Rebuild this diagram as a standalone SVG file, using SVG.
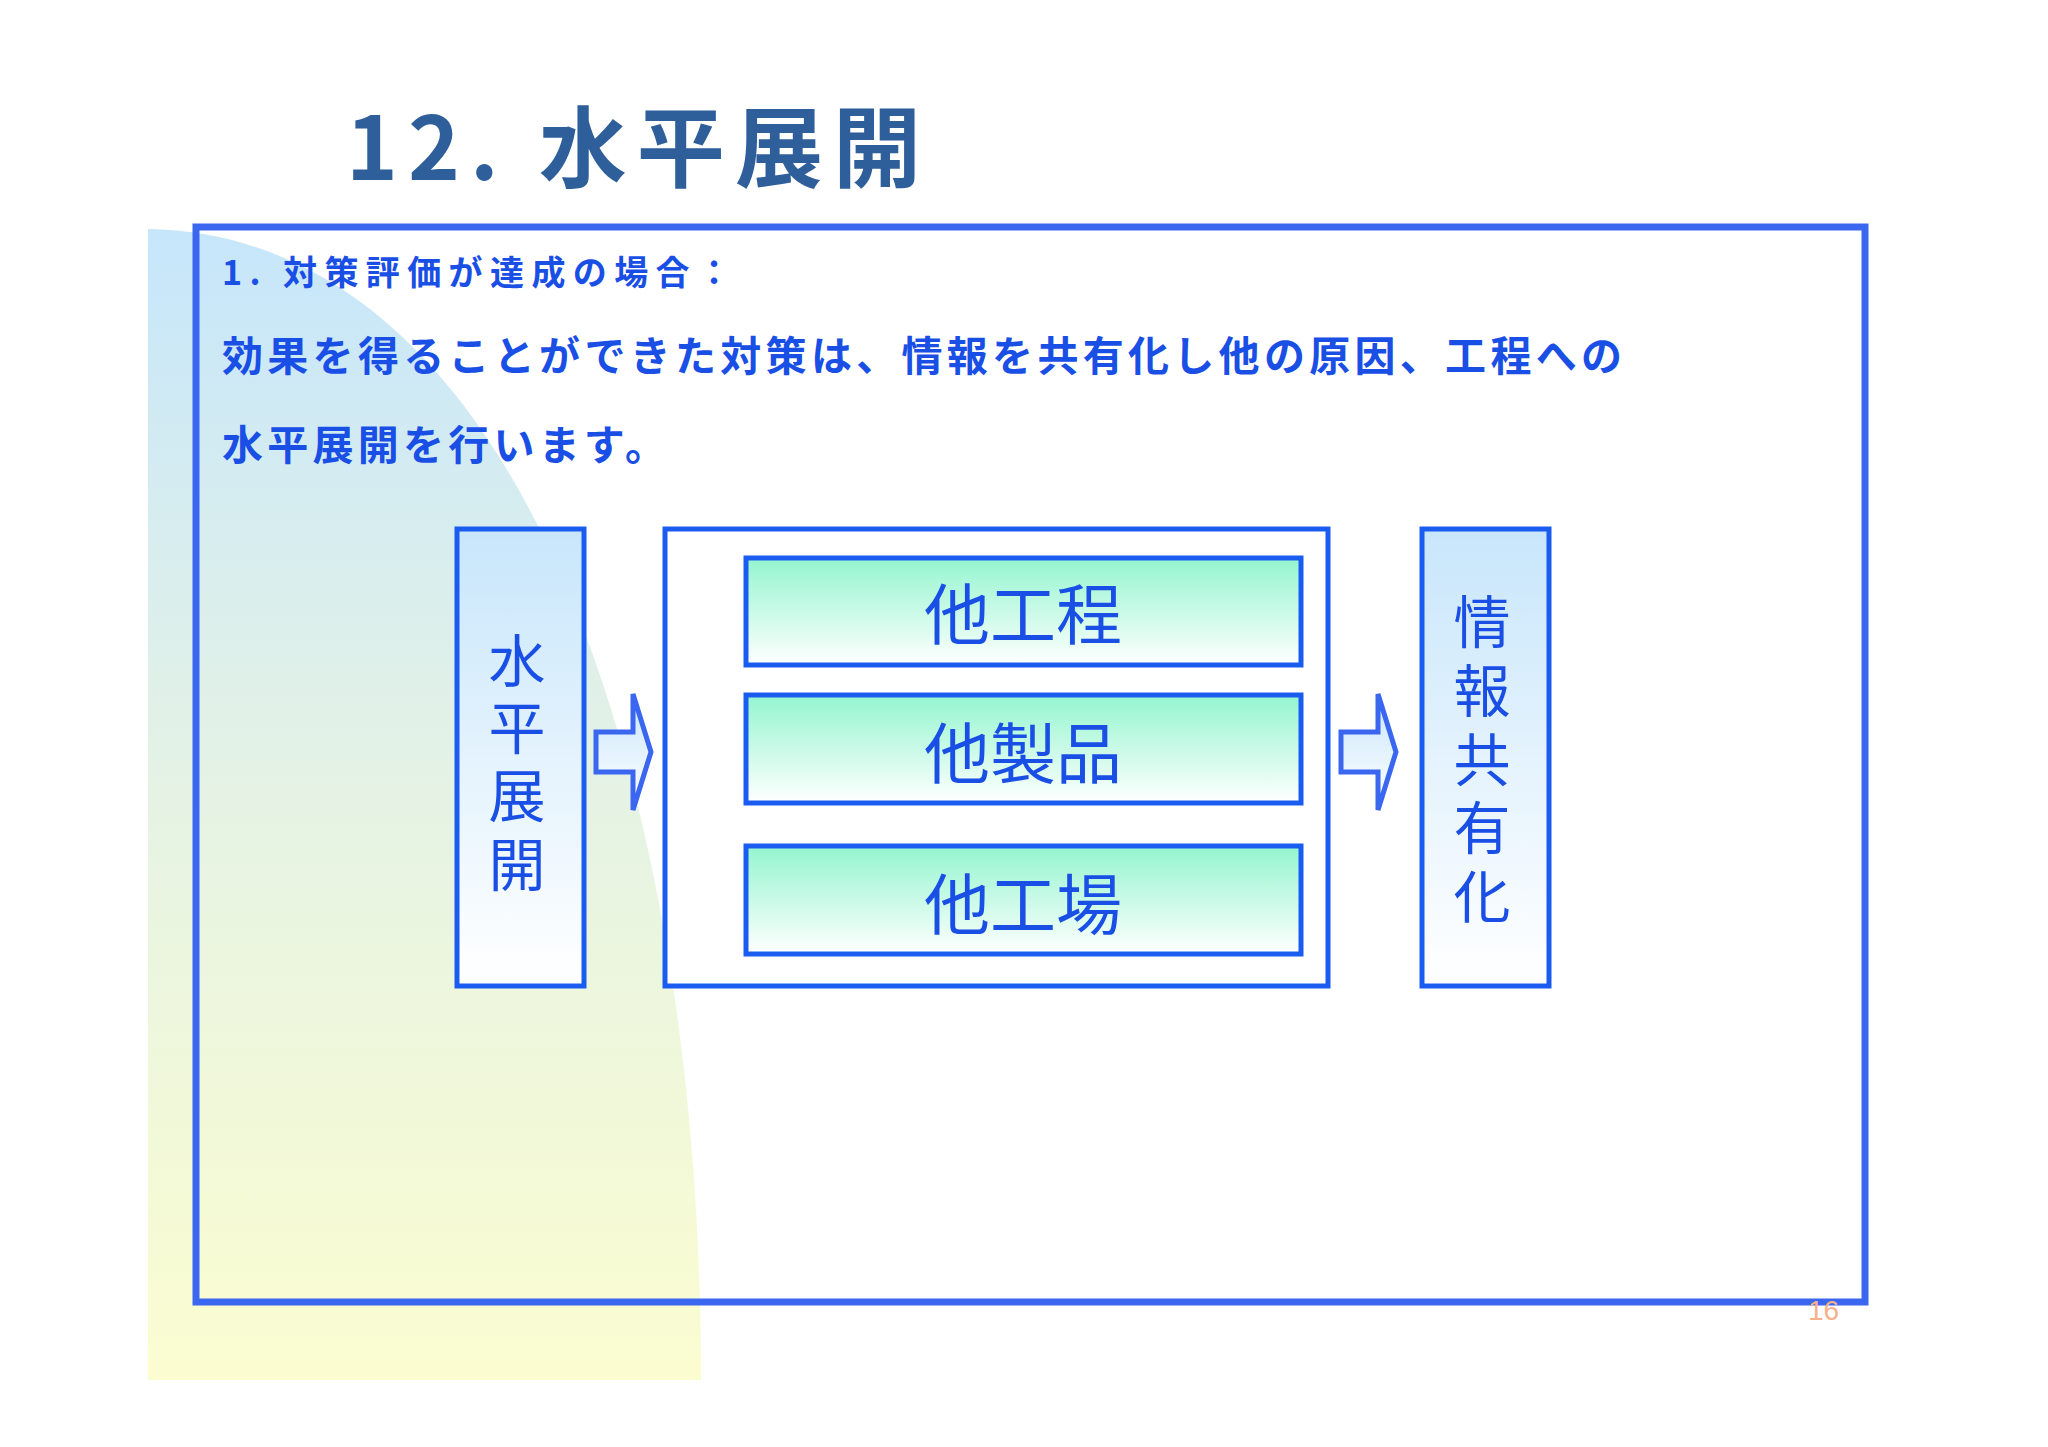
<svg xmlns="http://www.w3.org/2000/svg" width="2048" height="1447" viewBox="0 0 2048 1447">
<defs>
<linearGradient id="bg" x1="0" y1="0" x2="0" y2="1"><stop offset="0" stop-color="#c6e6fb"/><stop offset="0.5" stop-color="#e6f3e4"/><stop offset="1" stop-color="#fbfdd0"/></linearGradient>
<linearGradient id="blu" x1="0" y1="0" x2="0" y2="1"><stop offset="0" stop-color="#c8e6fb"/><stop offset="1" stop-color="#ffffff"/></linearGradient>
<linearGradient id="grn" x1="0" y1="0" x2="0" y2="1"><stop offset="0" stop-color="#94f5cf"/><stop offset="1" stop-color="#ffffff"/></linearGradient>
<linearGradient id="arr" x1="0" y1="0" x2="0" y2="1"><stop offset="0" stop-color="#c8e6fb"/><stop offset="1" stop-color="#ffffff"/></linearGradient>
<style>
.t{font-family:"Noto Sans CJK JP","Liberation Sans",sans-serif;fill:#1a4fe6}
.b{font-weight:bold}
.box{stroke:#1a5cf0;stroke-width:5}
.n{font-size:57px;text-anchor:middle}
.m{font-size:66px;text-anchor:middle}
</style>
</defs>
<rect width="2048" height="1447" fill="#ffffff"/>
<path d="M148,229 C522,235 701,784 701,1380 L148,1380 Z" fill="url(#bg)"/>
<text x="346" y="180" font-family="Noto Sans CJK JP,Liberation Sans,sans-serif" font-size="88" font-weight="bold" fill="#2f5f9a" textLength="575" lengthAdjust="spacing">12. 水平展開</text>
<rect x="196" y="227" width="1669" height="1075" fill="none" stroke="#3a66f0" stroke-width="7"/>
<text class="t b" x="222" y="285" font-size="34" textLength="509" lengthAdjust="spacing">1. 対策評価が達成の場合：</text>
<text class="t b" x="222" y="371" font-size="41" textLength="1400" lengthAdjust="spacing">効果を得ることができた対策は、情報を共有化し他の原因、工程への</text>
<text class="t b" x="222" y="460" font-size="41" textLength="444" lengthAdjust="spacing">水平展開を行います。</text>
<g id="left">
<rect class="box" x="457" y="529" width="127" height="457" fill="url(#blu)"/>
<text class="t n" x="517" y="682">水</text><text class="t n" x="517" y="749">平</text><text class="t n" x="517" y="817">展</text><text class="t n" x="517" y="886">開</text>
</g>
<g id="middle">
<rect class="box" x="665" y="529" width="663" height="457" fill="#ffffff"/>
</g>
<g id="n1"><rect class="box" x="746" y="558" width="555" height="107" fill="url(#grn)"/><text class="t m" x="1023" y="639">他工程</text></g>
<g id="n2"><rect class="box" x="746" y="695" width="555" height="108" fill="url(#grn)"/><text class="t m" x="1023" y="778">他製品</text></g>
<g id="n3"><rect class="box" x="746" y="846" width="555" height="108" fill="url(#grn)"/><text class="t m" x="1023" y="929">他工場</text></g>
<g id="right">
<rect class="box" x="1422" y="529" width="127" height="457" fill="url(#blu)"/>
<text class="t n" x="1482" y="643">情</text><text class="t n" x="1482" y="712">報</text><text class="t n" x="1482" y="781">共</text><text class="t n" x="1482" y="849">有</text><text class="t n" x="1482" y="918">化</text>
</g>
<g id="connectors" fill="url(#arr)" stroke="#3a66f0" stroke-width="5">
<path d="M596,732 L633,732 L633,694 L651,752 L633,810 L633,772 L596,772 Z"/>
<path d="M1341,732 L1378,732 L1378,694 L1396,752 L1378,810 L1378,772 L1341,772 Z"/>
</g>
<text x="1808" y="1320" font-family="Liberation Sans,sans-serif" font-size="28" fill="#f6b08a">16</text>
</svg>
